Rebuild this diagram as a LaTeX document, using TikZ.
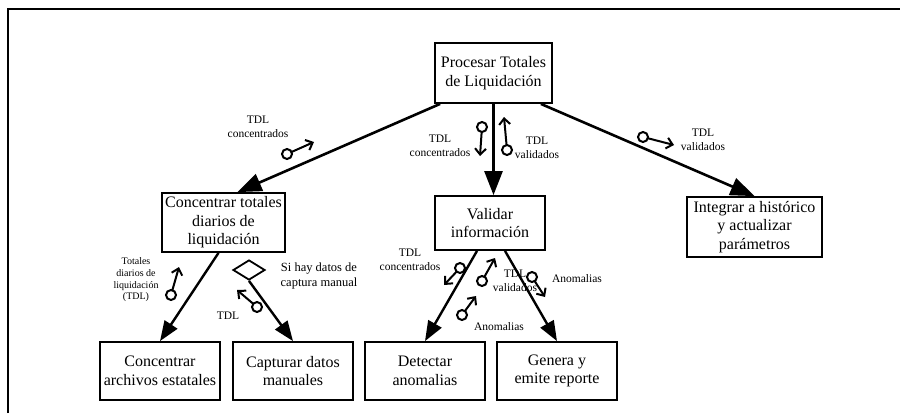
\documentclass[tikz,border=0pt]{standalone}
\usepackage{fontspec}
\setmainfont{Liberation Serif}
\usetikzlibrary{arrows.meta,shapes.geometric,calc}
\begin{document}
\begin{tikzpicture}[x=1pt,y=-1pt,
  box/.style={draw,line width=1.8pt,align=center,inner sep=0pt,font=\fontsize{16}{18.5}\selectfont},
  flow/.style={line width=2.6pt,-{Triangle[length=24pt,width=18pt]}},
  flowsmall/.style={line width=2.4pt,-{Triangle[length=20pt,width=15pt]}},
  cpl/.style={line width=2pt},
  cplarrow/.style={line width=2pt,-{Straight Barb[length=6pt,width=11pt,line width=2pt]}},
  lbl/.style={align=center,font=\fontsize{11.5}{13.5}\selectfont,inner sep=0pt},
  cond/.style={draw,line width=1.8pt,shape=diamond,minimum width=32pt,minimum height=20pt,inner sep=0pt},
]
\newcommand\mycouple[2]{%
  \draw[cpl] (#1) circle (5);
  \draw[cplarrow] ($(#1)!5pt!(#2)$) -- (#2);}
\useasboundingbox (0,0) rectangle (900,413);
\fill[white] (0,0) rectangle (900,413);
% frame
\draw[line width=1.6pt] (8,413) -- (8,9) -- (900,9);

% boxes
\node[box,minimum width=117pt,minimum height=60pt] (procesar) at (493.5,73) {Procesar Totales\\de Liquidación};
\node[box,minimum width=123pt,minimum height=59pt] (ctot) at (223.5,222.5) {Concentrar totales\\diarios de\\liquidación};
\node[box,minimum width=110pt,minimum height=54pt] (validar) at (490,223) {Validar\\información};
\node[box,minimum width=135pt,minimum height=60pt] (integ) at (754.5,227) {Integrar a histórico\\y actualizar\\parámetros};
\node[box,minimum width=120pt,minimum height=58pt] (carch) at (160,371) {Concentrar\\archivos estatales};
\node[box,minimum width=120pt,minimum height=58pt] (capt) at (293,371) {Capturar datos\\manuales};
\node[box,minimum width=120pt,minimum height=58pt] (detect) at (425,371) {Detectar\\anomalias};
\node[box,minimum width=120pt,minimum height=58pt] (genera) at (557,371) {Genera y\\emite reporte};
\node[cond] (dia) at (249,270) {};

% connectors
\draw[flow] ($(procesar.south west)+(6,0)$) -- ($(ctot.north)+(14,0)$);
\draw[flow] (procesar.south) -- (procesar.south |- validar.north);
\draw[flow] ($(procesar.south east)+(-12,0)$) -- (integ.north);
\draw[flowsmall] ($(ctot.south)+(-5,0)$) -- (carch.north);
\draw[flowsmall] (dia.south) -- (capt.north);
\draw[flowsmall] ($(validar.south)+(-13,0)$) -- (detect.north);
\draw[flowsmall] ($(validar.south)+(15,0)$) -- (genera.north);

% couples and labels
\coordinate (c1) at (287,154); \coordinate (t1) at (314,142);
\mycouple{c1}{t1}
\node[lbl] (l1) at (258,127) {TDL\\concentrados};

\coordinate (c2) at (482,127); \coordinate (t2) at (480,156);
\mycouple{c2}{t2}
\node[lbl] (l2) at (440,146) {TDL\\concentrados};

\coordinate (c3) at (507,150); \coordinate (t3) at (504,117);
\mycouple{c3}{t3}
\node[lbl] (l3) at (537,148) {TDL\\validados};

\coordinate (c4) at (643,137); \coordinate (t4) at (674,145);
\mycouple{c4}{t4}
\node[lbl] (l4) at (703,140) {TDL\\validados};

\coordinate (c5) at (171,295); \coordinate (t5) at (179,267);
\mycouple{c5}{t5}
\node[lbl,font=\fontsize{10}{11.7}\selectfont] (l5) at (136,280) {Totales\\diarios de\\liquidación\\(TDL)};

\coordinate (c6) at (257,307); \coordinate (t6) at (237,290);
\mycouple{c6}{t6}
\node[lbl] (l6) at (228,316) {TDL};
\node[lbl,font=\fontsize{12.5}{15}\selectfont] (l7) at (319,276) {Si hay datos de\\captura manual};

\coordinate (c7) at (460,268); \coordinate (t7) at (444,285);
\mycouple{c7}{t7}
\node[lbl] (l8) at (410,260) {TDL\\concentrados};

\coordinate (c8) at (482,281); \coordinate (t8) at (495,258);
\mycouple{c8}{t8}
\node[lbl] (l9) at (515,281) {TDL\\validados};

\coordinate (c9) at (462,315); \coordinate (t9) at (476,296);
\mycouple{c9}{t9}
\node[lbl] (l10) at (499,327) {Anomalias};

\coordinate (c10) at (532,277); \coordinate (t10) at (545,297);
\mycouple{c10}{t10}
\node[lbl] (l11) at (577,279) {Anomalias};
\end{tikzpicture}
\end{document}
